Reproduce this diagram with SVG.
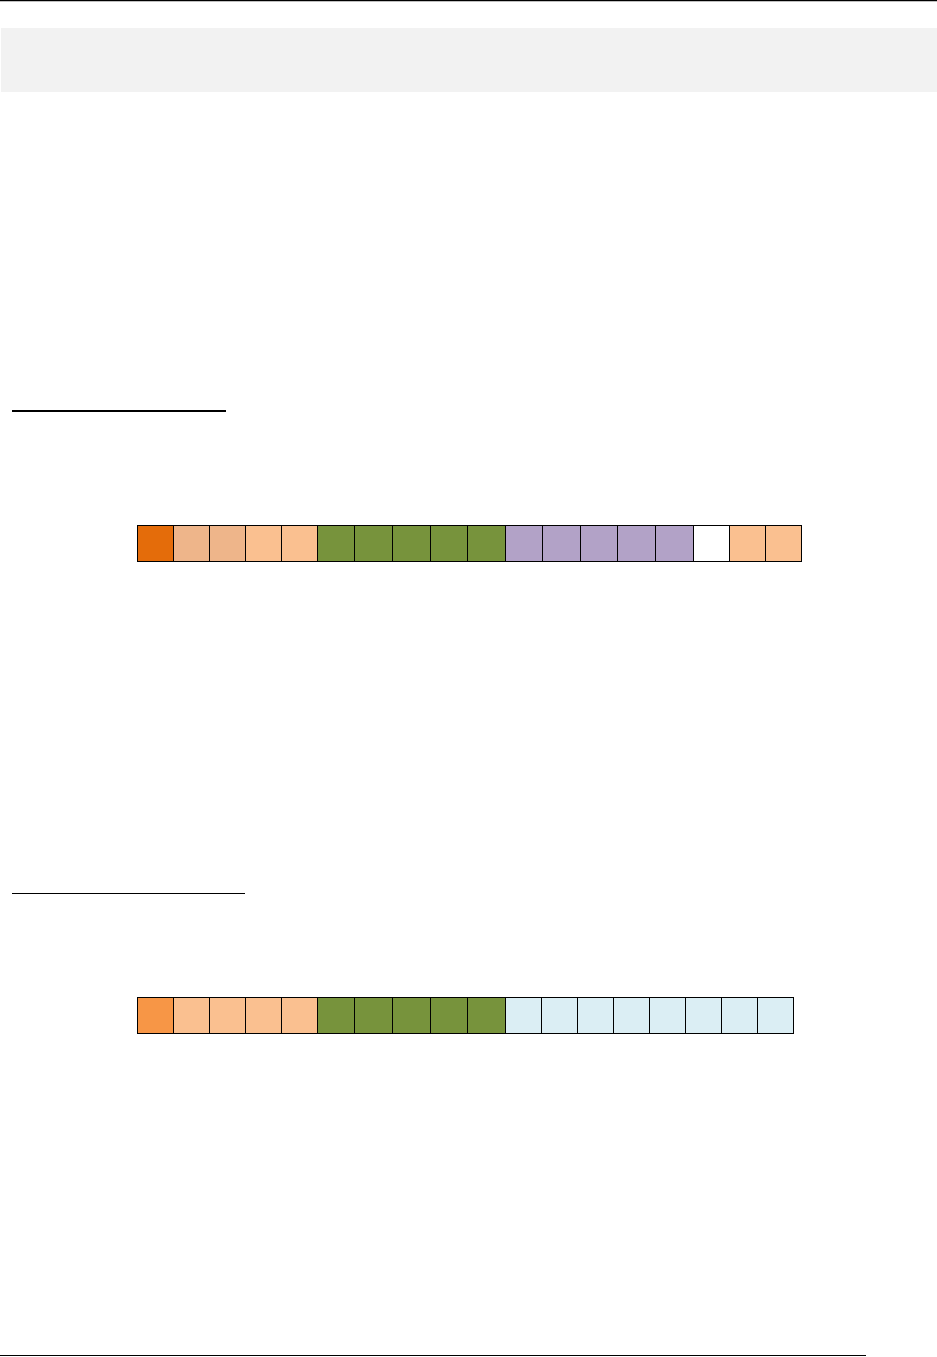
<svg xmlns="http://www.w3.org/2000/svg" width="937" height="1357" viewBox="0 0 937 1357">
<style>
.c{stroke:#000;stroke-width:1}
.o1{fill:#E46C0A}.o2{fill:#EEB58A}.o3{fill:#FAC090}.o4{fill:#F79646}
.g{fill:#77933C}.p{fill:#B2A2C7}.w{fill:#FFFFFF}.b{fill:#DBEEF4}
</style>
<rect width="937" height="1357" fill="#fff"/>
<g id="page-frame">
<line x1="0" y1="0.5" x2="937" y2="0.5" stroke="#000" stroke-width="1.5"/>
<rect x="1" y="28" width="936" height="64" fill="#F2F2F2"/>
<line x1="12" y1="411" x2="226" y2="411" stroke="#000" stroke-width="2"/>
<line x1="12" y1="893.5" x2="245" y2="893.5" stroke="#000" stroke-width="1"/>
<line x1="0" y1="1355.5" x2="866" y2="1355.5" stroke="#000" stroke-width="1"/>
</g>
<g id="strip1">
<rect class="c o1" x="137.5" y="525.5" width="36" height="36"/>
<rect class="c o2" x="173.5" y="525.5" width="36" height="36"/>
<rect class="c o2" x="209.5" y="525.5" width="36" height="36"/>
<rect class="c o3" x="245.5" y="525.5" width="36" height="36"/>
<rect class="c o3" x="281.5" y="525.5" width="36" height="36"/>
<rect class="c g" x="317.5" y="525.5" width="37" height="36"/>
<rect class="c g" x="354.5" y="525.5" width="38" height="36"/>
<rect class="c g" x="392.5" y="525.5" width="38" height="36"/>
<rect class="c g" x="430.5" y="525.5" width="37" height="36"/>
<rect class="c g" x="467.5" y="525.5" width="38" height="36"/>
<rect class="c p" x="505.5" y="525.5" width="37" height="36"/>
<rect class="c p" x="542.5" y="525.5" width="38" height="36"/>
<rect class="c p" x="580.5" y="525.5" width="37" height="36"/>
<rect class="c p" x="617.5" y="525.5" width="38" height="36"/>
<rect class="c p" x="655.5" y="525.5" width="38" height="36"/>
<rect class="c w" x="693.5" y="525.5" width="36" height="36"/>
<rect class="c o3" x="729.5" y="525.5" width="36" height="36"/>
<rect class="c o3" x="765.5" y="525.5" width="36" height="36"/>
</g>
<g id="strip2">
<rect class="c o4" x="137.5" y="997.5" width="36" height="36"/>
<rect class="c o3" x="173.5" y="997.5" width="36" height="36"/>
<rect class="c o3" x="209.5" y="997.5" width="36" height="36"/>
<rect class="c o3" x="245.5" y="997.5" width="36" height="36"/>
<rect class="c o3" x="281.5" y="997.5" width="36" height="36"/>
<rect class="c g" x="317.5" y="997.5" width="37" height="36"/>
<rect class="c g" x="354.5" y="997.5" width="38" height="36"/>
<rect class="c g" x="392.5" y="997.5" width="38" height="36"/>
<rect class="c g" x="430.5" y="997.5" width="37" height="36"/>
<rect class="c g" x="467.5" y="997.5" width="38" height="36"/>
<rect class="c b" x="505.5" y="997.5" width="36" height="36"/>
<rect class="c b" x="541.5" y="997.5" width="36" height="36"/>
<rect class="c b" x="577.5" y="997.5" width="36" height="36"/>
<rect class="c b" x="613.5" y="997.5" width="36" height="36"/>
<rect class="c b" x="649.5" y="997.5" width="36" height="36"/>
<rect class="c b" x="685.5" y="997.5" width="36" height="36"/>
<rect class="c b" x="721.5" y="997.5" width="36" height="36"/>
<rect class="c b" x="757.5" y="997.5" width="36" height="36"/>
</g>
<g id="connectors"></g>
</svg>
